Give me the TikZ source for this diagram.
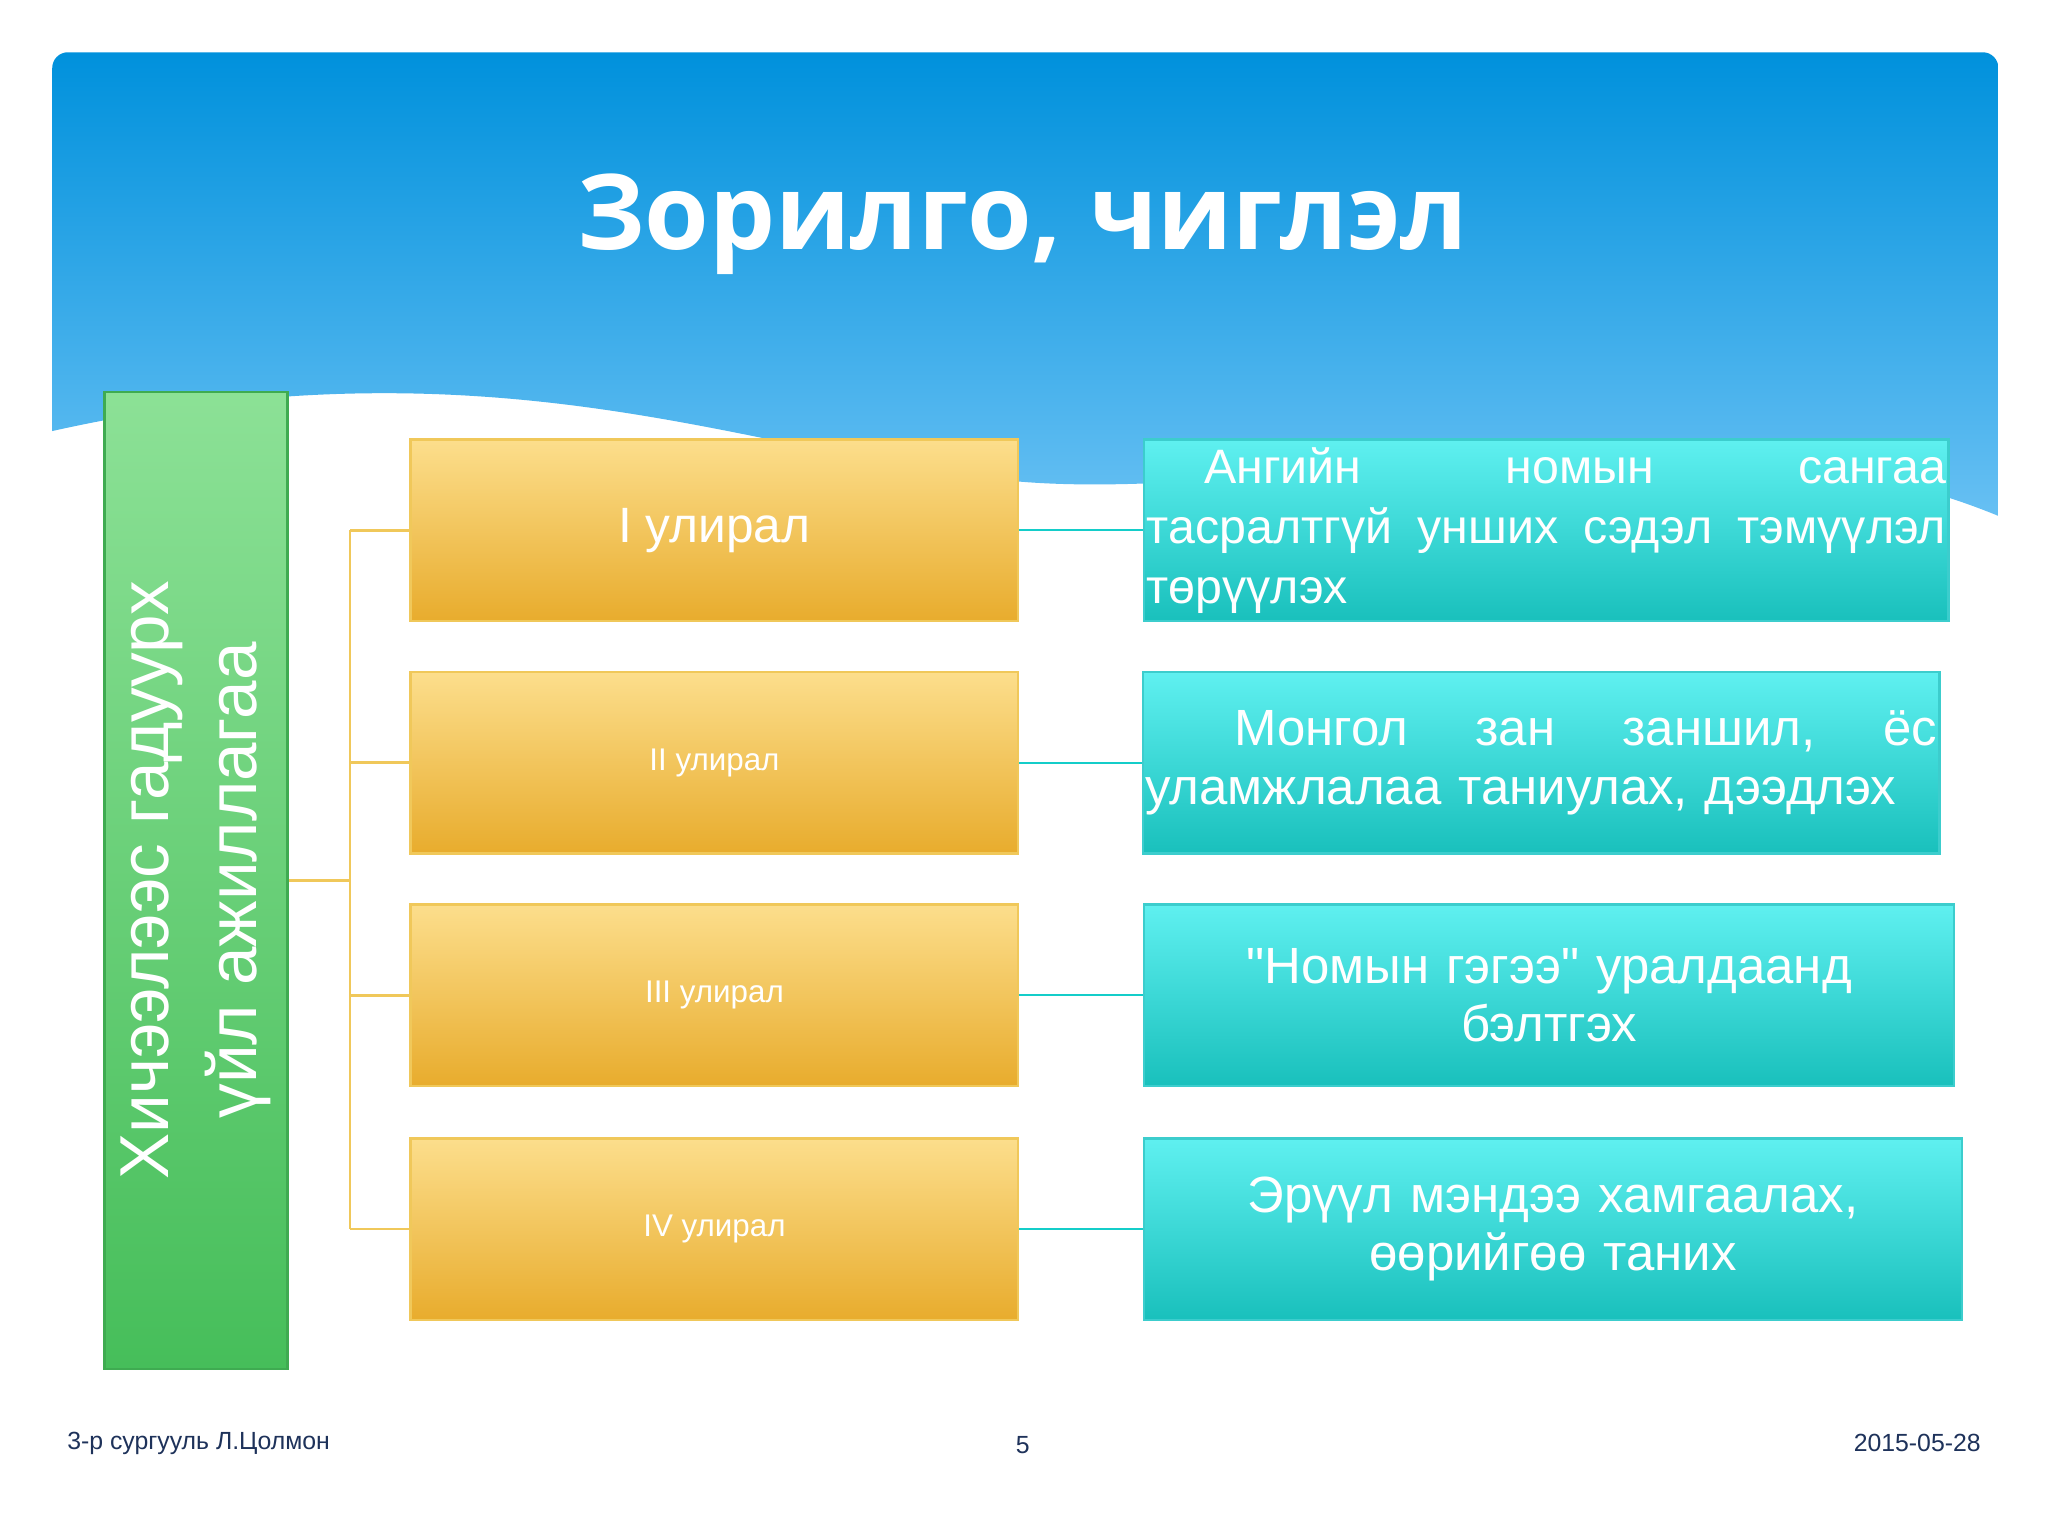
\documentclass[tikz,border=0pt]{standalone}
\usepackage{fontspec}
\setmainfont{Liberation Sans}
\newfontfamily\plainfont{Liberation Sans}
\newfontfamily\titlefont{Open Sans}
\definecolor{skyA}{RGB}{0,145,220}
\definecolor{skyB}{RGB}{110,195,245}
\definecolor{yelA}{RGB}{252,222,140}
\definecolor{yelB}{RGB}{232,172,45}
\definecolor{yelE}{RGB}{240,200,90}
\definecolor{cyA}{RGB}{95,240,240}
\definecolor{cyB}{RGB}{25,192,188}
\definecolor{cyE}{RGB}{60,205,205}
\definecolor{grA}{RGB}{140,225,150}
\definecolor{grB}{RGB}{70,190,90}
\definecolor{foot}{RGB}{30,50,90}
\begin{document}
\begin{tikzpicture}[x=1pt,y=-1pt,
 ybox/.style={draw=yelE, line width=2pt, top color=yelA, bottom color=yelB, minimum width=465pt, minimum height=139pt, text=white, font=\fontsize{24}{28}\selectfont},
 cbox/.style={draw=cyE, line width=2pt, top color=cyA, bottom color=cyB, minimum height=139pt, text=white, font=\fontsize{39}{45}\selectfont, inner sep=2pt},
 yl/.style={draw=yelE, line width=2pt},
 cl/.style={draw=cyB!80!cyan, line width=1.5pt}]
\useasboundingbox (0,0) rectangle (1568,1176);
\fill[white] (0,0) rectangle (1568,1176);
\begin{scope}
\clip (40,330) -- (40,30) -- (1540,30) -- (1540,395) -- (1530,395)
 .. controls (1300,300) and (1000,380) .. (800,370)
 .. controls (600,360) and (400,250) .. (40,330) -- cycle;
\shade[top color=skyA, bottom color=skyB, rounded corners=12pt] (40,40) rectangle (1530,420);
\end{scope}
\node[text=white, font=\titlefont\bfseries\fontsize{80}{90}\selectfont] (title) at (783,172) {Зорилго, чиглэл};
\node[draw=grB!90!black, line width=2pt, top color=grA, bottom color=grB, minimum width=140pt, minimum height=748pt] (g) at (150,674) {};
\node[rotate=90, text=white, font=\fontsize{53}{68}\selectfont, align=center] at (150,674) {Хичээлээс гадуурх\\үйл ажиллагаа};
\node[ybox, font=\fontsize{38}{40}\selectfont] (y1) at (547,406) {I улирал};
\node[ybox] (y2) at (547,584) {II улирал};
\node[ybox] (y3) at (547,762) {III улирал};
\node[ybox] (y4) at (547,941) {IV улирал};
\node[cbox, minimum width=616pt, text width=612pt, align=left, font=\fontsize{37}{46}\selectfont] (c1) at (1184,406) {\hspace*{44pt}Ангийн\hfill номын\hfill сангаа\\тасралтгүй\hfill унших\hfill сэдэл\hfill тэмүүлэл\\төрүүлэх};
\node[cbox, minimum width=610pt, text width=606pt, align=left] (c2) at (1180,584) {\hspace*{68pt}Монгол\hfill зан\hfill заншил,\hfill ёс\\уламжлалаа таниулах, дээдлэх};
\node[cbox, minimum width=620pt, text width=610pt, align=center, font=\plainfont\fontsize{39}{45}\selectfont] (c3) at (1186,762) {"Номын гэгээ" уралдаанд\\бэлтгэх};
\node[cbox, minimum width=626pt, text width=600pt, align=center] (c4) at (1189,941) {Эрүүл мэндээ хамгаалах,\\өөрийгөө таних};
\coordinate (j) at (268,674);
\draw[yl] (g.east |- j) -- (j);
\draw[yl] (268,406) -- (268,941);
\foreach \i in {1,2,3,4} {\draw[yl] (268,0 |- y\i.west) -- (y\i.west); \draw[cl] (y\i.east) -- (c\i.west);}
\node[anchor=west, text=foot, font=\fontsize{19}{20}\selectfont] (f1) at (48,1105) {3-р сургууль Л.Цолмон};
\node[text=foot, font=\fontsize{19}{20}\selectfont] (f2) at (783,1106) {5};
\node[anchor=east, text=foot, font=\fontsize{19}{20}\selectfont] (f3) at (1520,1105) {2015-05-28};
\end{tikzpicture}
\end{document}
